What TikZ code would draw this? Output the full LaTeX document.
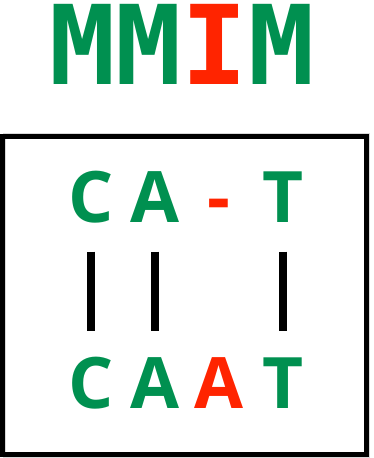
\documentclass[tikz,border=0pt]{standalone}
\usepackage{fontspec}
\newfontfamily\seqfont{Open Sans}
\newfontfamily\cigarfont{DejaVu Sans Mono}
\definecolor{matchgreen}{RGB}{0,144,80}
\definecolor{indelred}{RGB}{255,36,0}
\tikzset{
  base/.style={inner sep=0pt,text height=51pt,text depth=0pt,
    font=\seqfont\bfseries\fontsize{71}{71}\selectfont,text=matchgreen},
  gap/.style={base,text=indelred},
  bar/.style={line width=7.5pt,shorten <=29pt,shorten >=26pt}
}
\begin{document}
\begin{tikzpicture}[x=1pt,y=1pt]
\useasboundingbox (0,0) rectangle (373,458);
% CIGAR string
\node[inner sep=0pt,font=\cigarfont\bfseries\fontsize{110}{110}\selectfont] (cigar) at (182,414)
  {\textcolor{matchgreen}{MM}\textcolor{indelred}{I}\textcolor{matchgreen}{M}};
% frame
\draw[gray!30,line width=3pt] (4,1.5) rectangle (368.5,323);
\draw[line width=5pt] (2.5,3.5) rectangle (366.5,321.5);
% read
\node[base] (r1) at (91,261) {C};
\node[base] (r2) at (155,261) {A};
\node[gap] (r3) at (219,261) {-};
\node[base] (r4) at (283,261) {T};
% reference
\node[base] (q1) at (91,75) {C};
\node[base] (q2) at (155,75) {A};
\node[gap] (q3) at (219,75) {A};
\node[base] (q4) at (283,75) {T};
% matches
\draw[bar] (r1.south) -- (q1.north);
\draw[bar] (r2.south) -- (q2.north);
\draw[bar] (r4.south) -- (q4.north);
\end{tikzpicture}
\end{document}
